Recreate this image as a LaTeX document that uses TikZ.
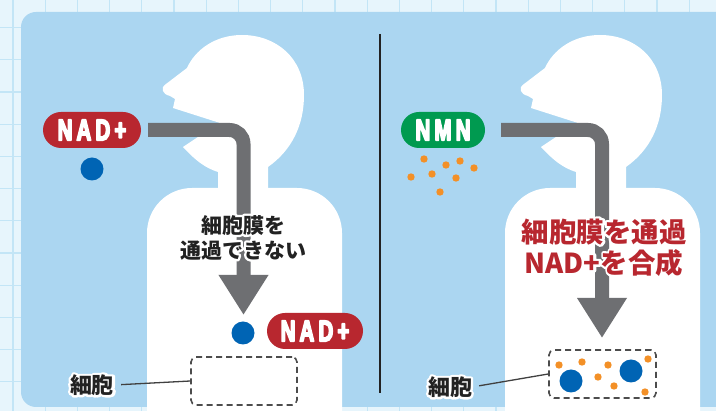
\documentclass[tikz,border=0pt]{standalone}
\usepackage{fontspec}
\usetikzlibrary{arrows.meta}

\newfontfamily\jpfont{Noto Sans CJK JP}
\newfontfamily\pillfont{Liberation Sans Bold}[FakeStretch=0.68,LetterSpace=14]

\definecolor{paper}{HTML}{E7F5FC}
\definecolor{gridblue}{HTML}{C3E5F6}
\definecolor{panelblue}{HTML}{ABD6F1}
\definecolor{nadred}{HTML}{B8272F}
\definecolor{nmngreen}{HTML}{009A50}
\definecolor{dotblue}{HTML}{0064B4}
\definecolor{seedorange}{HTML}{F39027}
\definecolor{bargray}{HTML}{6E6F72}
\definecolor{ink}{HTML}{222222}

% white stroked copy of a label, laid under the label itself
\newcommand\strokeon{\special{pdf:literal direct 1 1 1 RG 1 j 4.6 w 2 Tr}}
\newcommand\strokeoff{\special{pdf:literal direct 0 Tr}}
% heavier pill lettering
\newcommand\heavyon{\special{pdf:literal direct 1 1 1 RG 1 j 1.5 w 2 Tr}}

% silhouette: head with open mouth + shoulders
\tikzset{person/.pic={
    \fill[white, rounded corners=45pt] (147,425) |- (342,188) -- (342,425);
    \fill[white] (268,190) -- (268,167)
      .. controls (292,150) and (304,125) .. (304,95)
      .. controls (304,58) and (276,35) .. (242,35)
      .. controls (215,35) and (195,50) .. (187,68)
      -- (166,84) .. controls (160,88) and (162,94) .. (170,96)
      -- (175,99) -- (173,108) -- (220,123) -- (222,137) -- (198,137)
      -- (183,147) .. controls (195,160) and (205,168) .. (218,172)
      -- (218,190) -- cycle;
}}

\begin{document}
\begin{tikzpicture}[x=1pt, y=-1pt,
    pill/.style={rounded corners=18pt, minimum width=#1, minimum height=36pt,
      inner sep=0pt, text=white, font=\pillfont\fontsize{30}{30}\selectfont,
      execute at begin node=\heavyon, execute at end node=\strokeoff},
    flow/.style={draw=bargray, line width=14pt, rounded corners=14pt,
      -{Triangle[width=47pt,length=40pt]}},
    cellbox/.style={draw=black!70, line width=1.6pt, dash pattern=on 6pt off 4pt,
      rounded corners=5pt, minimum width=#1, minimum height=48pt},
    leader/.style={draw=black!75, line width=1.3pt},
    note/.style={align=center, inner sep=0pt, font=\jpfont\bfseries\fontsize{21}{25}\selectfont},
    big/.style={font=\jpfont\bfseries\fontsize{27.5}{31}\selectfont},
    tag/.style={font=\jpfont\bfseries\fontsize{22}{22}\selectfont},
    halo/.style={text=white},
    gridline/.style={draw=gridblue, line width=1.2pt}]
  \useasboundingbox (0,0) rectangle (716,411);
  \clip (0,0) rectangle (716,411);

  % squared paper + panel
  \fill[paper] (0,0) rectangle (716,411);
  \foreach \i in {0,...,22} \draw[gridline] ({13+32.2*\i},0) -- ++(0,411);
  \foreach \j in {0,...,12} \draw[gridline] (0,{27.6+32.2*\j}) -- ++(716,0);
  \fill[panelblue, rounded corners=15pt] (21,12) rectangle (760,407);

  \pic at (0,0) {person};
  \pic at (358,0) {person};

  \draw[ink, line width=2pt] (380,34) -- (380,393);

  % left: NAD+ taken directly
  \node[pill=98pt, fill=nadred] (nadTop) at (92,130) {NAD+};
  \fill[dotblue] (92,169) circle (11.5);
  \coordinate (tipL) at (243.5,315);
  \draw[flow] ([xshift=7pt]nadTop.east) -| (tipL);
  \node[note, halo] (noPassHalo) at (243,237.5) {\strokeon{}細胞膜を\\通過できない\strokeoff};
  \node[note, text=ink] (noPass) at (243,237.5) {細胞膜を\\通過できない};
  \fill[dotblue] (243,333) circle (11.5);
  \node[pill=96pt, fill=nadred] (nadCell) at (315,331) {NAD+};
  \node[cellbox=106pt] (cellL) at (244,381) {};
  \node[note, tag, halo] (lblLHalo) at (92,385) {\strokeon{}細胞\strokeoff};
  \node[note, tag, text=ink] (lblL) at (92,385) {細胞};
  \draw[leader, shorten <=7pt] (lblL.east) -- (cellL.west);

  % right: NMN enters and becomes NAD+
  \node[pill=84pt, fill=nmngreen] (nmnTop) at (443,130) {NMN};
  \foreach \x/\y in {424/159, 446/165, 460/161, 474/168, 411/177, 432/174, 456/178, 440/192}
    \fill[seedorange] (\x,\y) circle (3.7);
  \coordinate (tipR) at (602,338);
  \draw[flow] ([xshift=16pt]nmnTop.east) -| (tipR);
  \node[note, big, halo] (passHalo) at (604,247.5) {\strokeon{}細胞膜を通過\\NAD+を合成\strokeoff};
  \node[note, big, text=nadred] (pass) at (604,247.5) {細胞膜を通過\\NAD+を合成};
  \node[cellbox=107pt] (cellR) at (602.5,374) {};
  \fill[dotblue] (571,381) circle (11.5) (631,371) circle (11.5);
  \foreach \x/\y in {559/365, 582/362, 608/365, 598/377, 614/386, 648/359, 645/392}
    \fill[seedorange] (\x,\y) circle (3.7);
  \node[note, tag, halo] (lblRHalo) at (450,387) {\strokeon{}細胞\strokeoff};
  \node[note, tag, text=ink] (lblR) at (450,387) {細胞};
  \draw[leader, shorten <=7pt] (lblR.east) -- (cellR.west);
\end{tikzpicture}
\end{document}
